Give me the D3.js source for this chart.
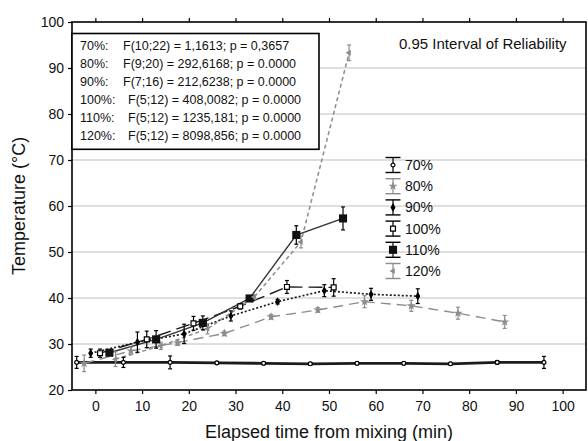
<!DOCTYPE html>
<html>
<head>
<meta charset="utf-8">
<script src="https://cdn.jsdelivr.net/npm/d3@7"></script>
<style>
  body { margin: 0; background: #fff; }
  svg { display: block; font-family: Arial, "Liberation Sans", sans-serif; }
</style>
</head>
<body>
<svg id="chart" width="588" height="441"></svg>
<script>
// Mean temperature (°C) against elapsed time (min), one group per dosage level,
// with the half-width of the 0.95 interval for every mean.
const seriesNames = ["70%", "80%", "90%", "100%", "110%", "120%"];

const time70 = [-4, 6, 16, 26, 36, 46, 56, 66, 76, 86, 96];
const temp70 = [26.0, 26.0, 26.0, 25.9, 25.8, 25.7, 25.8, 25.8, 25.7, 26.0, 26.0];
const ci70   = [1.3, 1.1, 1.4, 0.3, 0.3, 0.3, 0.3, 0.3, 0.3, 0.4, 1.3];

const time80 = [-2.4, 7.6, 17.6, 27.6, 37.6, 47.6, 57.6, 67.6, 77.6, 87.6];
const temp80 = [25.8, 28.5, 30.3, 32.3, 35.9, 37.4, 39.2, 38.3, 36.7, 34.8];
const ci80   = [1.8, 0.8, 0.6, 0.5, 0.5, 0.5, 1.3, 1.2, 1.3, 1.4];

const time90 = [-1, 9, 19, 29, 39, 49, 59, 69];
const temp90 = [28.0, 30.4, 32.2, 36.1, 39.2, 41.6, 40.8, 40.4];
const ci90   = [0.9, 2.2, 2.1, 1.1, 0.5, 1.3, 1.3, 1.6];

const time100 = [1, 11, 21, 31, 41, 51];
const temp100 = [28.0, 31.0, 34.5, 38.2, 42.4, 42.3];
const ci100   = [0.9, 1.8, 1.5, 0.6, 1.4, 1.9];

const time110 = [3, 13, 23, 33, 43, 53];
const temp110 = [28.1, 31.0, 34.6, 39.9, 53.7, 57.3];
const ci110   = [0.5, 1.9, 1.5, 0.5, 2.0, 2.5];

const time120 = [4.3, 14, 24, 34, 44, 54.3];
const temp120 = [26.7, 29.6, 33.3, 40.2, 52.2, 93.3];
const ci120   = [1.6, 0.8, 1.1, 0.5, 1.3, 1.7];

const xTicks = [0, 10, 20, 30, 40, 50, 60, 70, 80, 90, 100];
const yTicks = [20, 30, 40, 50, 60, 70, 80, 90, 100];

const statLabels = ["70%:", "80%:", "90%:", "100%:", "110%:", "120%:"];
const statTexts = [
  "F(10;22) = 1,1613; p = 0,3657",
  "F(9;20) = 292,6168; p = 0.0000",
  "F(7;16) = 212,6238; p = 0.0000",
  "F(5;12) = 408,0082; p = 0.0000",
  "F(5;12) = 1235,181; p = 0.0000",
  "F(5;12) = 8098,856; p = 0.0000"
];

const intervalNote = "0.95 Interval of Reliability";
const xTitle = "Elapsed time from mixing (min)";
const yTitle = "Temperature (°C)";

// ---- drawing ---------------------------------------------------------
const svg = d3.select("#chart");
const W = 588, H = 441;
const plot = { left: 72, right: 586, top: 22, bottom: 390 };

const x = d3.scaleLinear().domain([-5, 105]).range([plot.left, plot.right]);
const y = d3.scaleLinear().domain([20, 100]).range([plot.bottom, plot.top]);

svg.append("rect").attr("width", W).attr("height", H).attr("fill", "#fff");

// horizontal grid
svg.append("g").selectAll("line")
  .data(yTicks.filter(v => v > 20 && v < 100))
  .join("line")
  .attr("x1", plot.left).attr("x2", plot.right)
  .attr("y1", d => y(d)).attr("y2", d => y(d))
  .attr("stroke", "#d4d4d4").attr("stroke-width", 1.5);

// axes
const axisStyle = g => {
  g.select(".domain").remove();
  g.selectAll(".tick line").attr("stroke", "#000").attr("stroke-width", 1.2);
  g.selectAll(".tick text").attr("fill", "#111").attr("font-size", 14)
    .attr("font-family", "Arial, 'Liberation Sans', sans-serif");
};
svg.append("g").attr("transform", `translate(0,${plot.bottom})`)
  .call(d3.axisBottom(x).tickValues(xTicks).tickSize(4).tickPadding(7)).call(axisStyle);
svg.append("g").attr("transform", `translate(0,${plot.top})`)
  .call(d3.axisTop(x).tickValues(xTicks).tickSize(4).tickFormat("")).call(axisStyle);
svg.append("g").attr("transform", `translate(${plot.left},0)`)
  .call(d3.axisLeft(y).tickValues(yTicks).tickSize(4).tickPadding(4)).call(axisStyle);

// frame
svg.append("rect")
  .attr("x", plot.left).attr("y", plot.top)
  .attr("width", plot.right - plot.left).attr("height", plot.bottom - plot.top)
  .attr("fill", "none").attr("stroke", "#000").attr("stroke-width", 1.6);

// series styles
const styles = {
  "70%":  { stroke: "#1c1c1c", width: 2.8, dash: null,   sym: d3.symbolCircle,   size: 12, fill: "#fff",    mstroke: "#000", bar: "#000" },
  "80%":  { stroke: "#8c8c8c", width: 1.4, dash: "10,6", sym: d3.symbolStar,     size: 26, fill: "#8c8c8c", mstroke: "none", bar: "#8c8c8c" },
  "90%":  { stroke: "#1c1c1c", width: 1.7, dash: "2,2",  sym: d3.symbolDiamond,  size: 22, fill: "#000",    mstroke: "none", bar: "#000" },
  "100%": { stroke: "#1c1c1c", width: 1.4, dash: "14,6", sym: d3.symbolSquare,   size: 24, fill: "#fff",    mstroke: "#000", bar: "#000" },
  "110%": { stroke: "#333",    width: 1.4, dash: null,   sym: d3.symbolSquare,   size: 66, fill: "#111",    mstroke: "none", bar: "#000" },
  "120%": { stroke: "#8c8c8c", width: 1.5, dash: "4,3",  sym: d3.symbolTriangle, size: 16, fill: "#8c8c8c", mstroke: "none", bar: "#8c8c8c" }
};

const groups = [
  [time70, temp70, ci70],
  [time80, temp80, ci80],
  [time90, temp90, ci90],
  [time100, temp100, ci100],
  [time110, temp110, ci110],
  [time120, temp120, ci120]
].map(([t, v, e], i) => ({
  name: seriesNames[i],
  points: t.map((tt, j) => ({ t: tt, v: v[j], e: e[j] }))
}));

const line = d3.line().x(d => x(d.t)).y(d => y(d.v));

const layer = svg.append("g");
groups.forEach(g => {
  const s = styles[g.name];
  layer.append("path").datum(g.points)
    .attr("d", line).attr("fill", "none")
    .attr("stroke", s.stroke).attr("stroke-width", s.width)
    .attr("stroke-dasharray", s.dash);
});

// interval bars
groups.forEach(g => {
  const s = styles[g.name];
  const bars = layer.append("g").attr("stroke", s.bar).attr("stroke-width", 1.2);
  g.points.forEach(p => {
    const x0 = x(p.t), y1 = y(p.v + p.e), y2 = y(p.v - p.e);
    bars.append("line").attr("x1", x0).attr("x2", x0).attr("y1", y1).attr("y2", y2);
    bars.append("line").attr("x1", x0 - 2).attr("x2", x0 + 2).attr("y1", y1).attr("y2", y1);
    bars.append("line").attr("x1", x0 - 2).attr("x2", x0 + 2).attr("y1", y2).attr("y2", y2);
  });
});

// markers
groups.forEach(g => {
  const s = styles[g.name];
  const sym = d3.symbol().type(s.sym).size(s.size);
  layer.append("g").selectAll("path").data(g.points).join("path")
    .attr("d", sym)
    .attr("transform", d => `translate(${x(d.t)},${y(d.v)})` + (g.name === "120%" ? " rotate(-90)" : ""))
    .attr("fill", s.fill).attr("stroke", s.mstroke).attr("stroke-width", 1.2);
});

// statistics box
const box = svg.append("g");
box.append("rect")
  .attr("x", plot.left).attr("y", 33.5).attr("width", 247).attr("height", 115.8)
  .attr("fill", "#fff").attr("stroke", "#000").attr("stroke-width", 1.6);
statLabels.forEach((lab, i) => {
  const t = box.append("text").attr("y", 49.5 + i * 18).attr("font-size", 12.5).attr("fill", "#111");
  t.append("tspan").attr("x", 80).text(lab);
  t.append("tspan").attr("x", i < 3 ? 123 : 128).text(statTexts[i]);
});

svg.append("text").attr("x", 399).attr("y", 48.5)
  .attr("font-size", 15).attr("fill", "#111").text(intervalNote);

// legend
const legend = svg.append("g");
seriesNames.forEach((name, i) => {
  const s = styles[name];
  const cy = 165 + i * 21.2, cx = 393;
  const g = legend.append("g");
  g.append("line").attr("x1", cx).attr("x2", cx).attr("y1", cy - 7.5).attr("y2", cy + 7.5)
    .attr("stroke", s.bar).attr("stroke-width", 1.2);
  [cy - 7.5, cy + 7.5].forEach(yy =>
    g.append("line").attr("x1", cx - 7.5).attr("x2", cx + 7.5).attr("y1", yy).attr("y2", yy)
      .attr("stroke", s.bar).attr("stroke-width", 1.4));
  g.append("path").attr("d", d3.symbol().type(s.sym).size(s.size)())
    .attr("transform", `translate(${cx},${cy})` + (name === "120%" ? " rotate(-90)" : ""))
    .attr("fill", s.fill).attr("stroke", s.mstroke).attr("stroke-width", 1.2);
  g.append("text").attr("x", 405).attr("y", cy).attr("dy", "0.36em")
    .attr("font-size", 14).attr("fill", "#111").text(name);
});

// axis titles
svg.append("text").attr("x", (plot.left + plot.right) / 2).attr("y", 438)
  .attr("text-anchor", "middle").attr("font-size", 18).attr("fill", "#111").text(xTitle);
svg.append("text").attr("transform", `translate(25,${(plot.top + plot.bottom) / 2}) rotate(-90)`)
  .attr("text-anchor", "middle").attr("font-size", 18).attr("fill", "#111").text(yTitle);
</script>
</body>
</html>
